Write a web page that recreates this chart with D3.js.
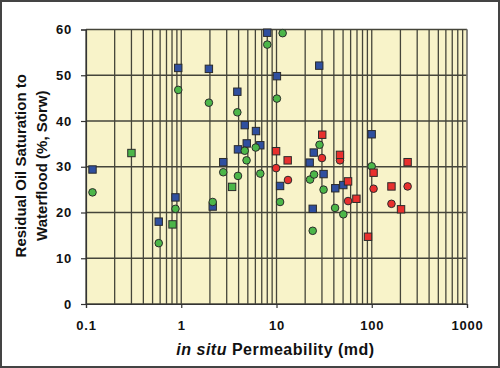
<!DOCTYPE html>
<html>
<head>
<meta charset="utf-8">
<script src="https://cdn.jsdelivr.net/npm/d3@7"></script>
<style>
  body { margin: 0; background: #fff; }
  svg { display: block; }
  .tick text { font-family: Arial, "Liberation Sans", sans-serif; font-weight: bold; font-size: 13px; letter-spacing: 0.8px; fill: #111; }
</style>
</head>
<body>
<div id="plot"></div>
<script>
	// Residual oil saturation vs in situ permeability (log x)

	const w = 500;
	const h = 368;
	const margin = {top: 29.5, right: 33, bottom: 64, left: 86};
	const innerWidth = w - margin.left - margin.right;
	const innerHeight = h - margin.top - margin.bottom;

	// data: [permeability md, Sorw %]
	const blueSquares = [
		[0.117, 29.4], [0.58, 18.0], [0.87, 23.3], [0.93, 51.6], [1.95, 51.4],
		[2.14, 21.3], [2.76, 31.0], [3.88, 46.4], [3.94, 33.8], [4.64, 39.1],
		[4.87, 35.1], [6.09, 37.8], [6.76, 34.7], [8.0, 59.3], [10.1, 49.8],
		[10.9, 25.8], [22.3, 30.9], [24.0, 20.8], [24.6, 33.1], [28.1, 52.1],
		[31.2, 28.4], [41.4, 25.3], [50.3, 26.0], [99.8, 37.1]
	];
	const greenCircles = [
		[0.117, 24.4], [0.58, 13.3], [0.87, 20.8], [0.93, 46.8], [1.95, 44.0],
		[2.14, 22.3], [2.76, 28.8], [3.88, 41.9], [3.94, 28.0], [4.64, 33.5],
		[4.85, 31.4], [6.05, 34.2], [6.76, 28.5], [8.0, 56.7], [10.1, 44.9],
		[10.9, 22.3], [11.6, 59.2], [22.5, 27.2], [24.0, 16.0], [24.8, 28.3],
		[28.3, 34.8], [31.2, 25.0], [41.2, 21.0], [50.3, 19.6], [99.8, 30.1]
	];
	const greenSquares = [[0.30, 33.0], [0.81, 17.4], [3.42, 25.6]];
	const redCircles = [
		[9.9, 29.7], [13.2, 27.1], [30.0, 31.9], [46.4, 31.4],
		[56.4, 22.5], [104.5, 25.2], [161, 21.9], [238, 25.7]
	];
	const redSquares = [
		[9.9, 33.4], [13.1, 31.4], [30.2, 37.0], [46.4, 32.6], [56.4, 26.8],
		[69.0, 23.0], [91.4, 14.7], [104.5, 28.7], [161, 25.7], [203, 20.7], [238, 31.0]
	];

	const xTicks = [0.1, 1, 10, 100, 1000];
	const xTickLabels = ["0.1", "1", "10", "100", "1000"];
	const yTicks = [0, 10, 20, 30, 40, 50, 60];

	const xScale = d3.scaleLog()
		.domain([0.1, 1000])
		.range([0, innerWidth]);

	const yScale = d3.scaleLinear()
		.domain([0, 60])
		.range([innerHeight, 0]);

	const svg = d3.select("div#plot")
		.append("svg")
		.attr("width", w)
		.attr("height", h);

	// outer frame
	svg.append("rect")
		.attr("x", 1)
		.attr("y", 1)
		.attr("width", w - 2)
		.attr("height", h - 2)
		.attr("fill", "#fff")
		.attr("stroke", "#444")
		.attr("stroke-width", 2);

	const g = svg.append("g")
		.attr("transform", `translate(${margin.left}, ${margin.top})`);

	// plot background
	g.append("rect")
		.attr("width", innerWidth)
		.attr("height", innerHeight)
		.attr("fill", "#f8f3c9");

	// vertical grid at every log tick
	g.append("g")
		.selectAll("line")
		.data(xScale.ticks())
		.enter().append("line")
		.attr("x1", d => xScale(d))
		.attr("x2", d => xScale(d))
		.attr("y1", 0)
		.attr("y2", innerHeight)
		.attr("stroke", "#45453a")
		.attr("stroke-width", 1.3);

	// horizontal grid
	g.append("g")
		.selectAll("line")
		.data(yTicks)
		.enter().append("line")
		.attr("x1", 0)
		.attr("x2", innerWidth)
		.attr("y1", d => yScale(d))
		.attr("y2", d => yScale(d))
		.attr("stroke", "#45453a")
		.attr("stroke-width", 1.3);

	// right edge
	g.append("line")
		.attr("x1", innerWidth).attr("x2", innerWidth)
		.attr("y1", 0).attr("y2", innerHeight)
		.attr("stroke", "#888").attr("stroke-width", 1.2);

	// axes
	const xAxis = d3.axisBottom(xScale)
		.tickValues(xTicks)
		.tickFormat((d, i) => xTickLabels[i])
		.tickSize(4)
		.tickPadding(13);

	const yAxis = d3.axisLeft(yScale)
		.tickValues(yTicks)
		.tickSize(5)
		.tickPadding(9);

	const gx = g.append("g")
		.attr("transform", `translate(0, ${innerHeight})`)
		.call(xAxis);
	const gy = g.append("g").call(yAxis);

	[gx, gy].forEach(a => {
		a.select(".domain").attr("stroke", "#333").attr("stroke-width", 1.2);
		a.selectAll(".tick line").attr("stroke", "#333").attr("stroke-width", 1.2);
	});

	// markers
	const stroke = "#2b2b2b";

	function squares(data, fill) {
		g.append("g")
			.selectAll("rect")
			.data(data)
			.enter().append("rect")
			.attr("x", d => xScale(d[0]) - 3.7)
			.attr("y", d => yScale(d[1]) - 3.7)
			.attr("width", 7.4)
			.attr("height", 7.4)
			.attr("fill", fill)
			.attr("stroke", stroke)
			.attr("stroke-width", 1);
	}

	function circles(data, fill) {
		g.append("g")
			.selectAll("circle")
			.data(data)
			.enter().append("circle")
			.attr("cx", d => xScale(d[0]))
			.attr("cy", d => yScale(d[1]))
			.attr("r", 3.8)
			.attr("fill", fill)
			.attr("stroke", stroke)
			.attr("stroke-width", 1);
	}

	squares(blueSquares, "#2f4f9f");
	circles(greenCircles, "#4cb649");
	squares(greenSquares, "#4cb649");
	circles(redCircles, "#e8302e");
	squares(redSquares, "#e8302e");

	// axis titles
	const xTitle = svg.append("text")
		.attr("x", margin.left + innerWidth / 2 - 1)
		.attr("y", 355)
		.attr("text-anchor", "middle")
		.attr("font-family", "Arial, 'Liberation Sans', sans-serif")
		.attr("font-weight", "bold")
		.attr("font-size", 16)
		.attr("letter-spacing", 0.5)
		.attr("fill", "#111");
	xTitle.append("tspan").attr("font-style", "italic").text("in situ");
	xTitle.append("tspan").text(" Permeability (md)");

	const yTitleLines = ["Residual Oil Saturation to", "Waterflood (%, Sorw)"];
	svg.append("g")
		.attr("transform", `translate(26, ${margin.top + innerHeight / 2 - 1}) rotate(-90)`)
		.selectAll("text")
		.data(yTitleLines)
		.enter().append("text")
		.attr("y", (d, i) => i * 21)
		.attr("text-anchor", "middle")
		.attr("font-family", "Arial, 'Liberation Sans', sans-serif")
		.attr("font-weight", "bold")
		.attr("font-size", 15)
		.attr("fill", "#111")
		.text(d => d);
</script>
</body>
</html>
